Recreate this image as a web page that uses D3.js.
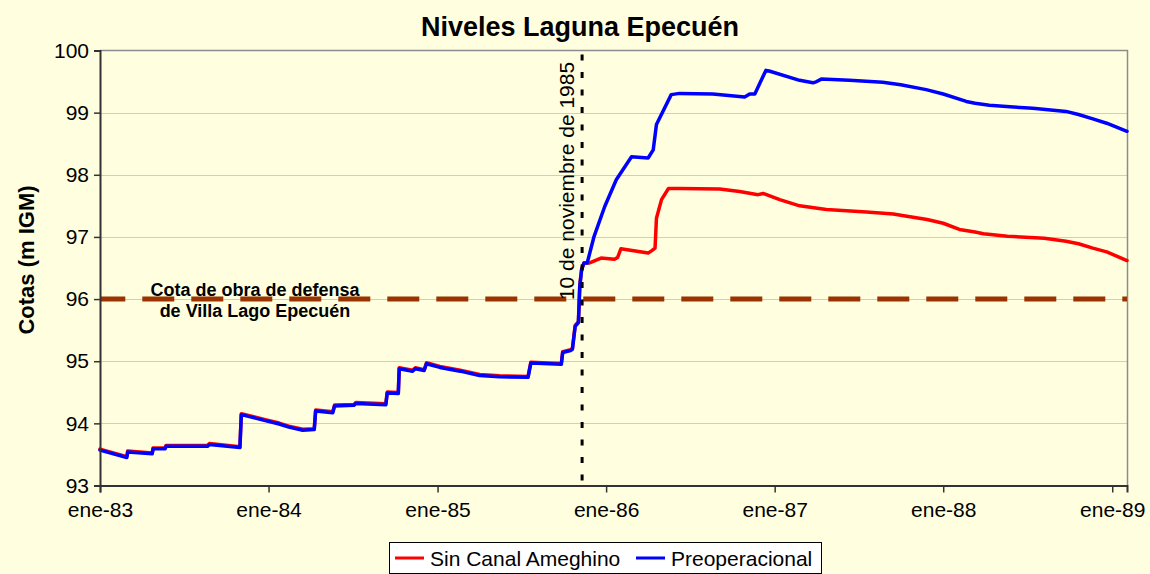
<!DOCTYPE html>
<html>
<head>
<meta charset="utf-8">
<script src="https://cdn.jsdelivr.net/npm/d3@7/dist/d3.min.js"></script>
<style>
  html, body { margin: 0; padding: 0; background: #FFFFE0; }
  svg { display: block; font-family: "Liberation Sans", Arial, sans-serif; }
</style>
</head>
<body>
<svg id="chart" width="1150" height="574"></svg>
<script>
// Niveles de la Laguna Epecuén (cota en m IGM), escenarios simulados
const fechasPre = [
  "1983-01-01","1983-02-28","1983-03-02","1983-04-24","1983-04-26","1983-05-22","1983-05-24",
  "1983-08-22","1983-08-26","1983-10-31","1983-11-03","1983-12-27","1984-01-24","1984-02-14",
  "1984-03-15","1984-04-09","1984-04-12","1984-05-19","1984-05-23","1984-07-04","1984-07-08",
  "1984-09-11","1984-09-14","1984-10-08","1984-10-10","1984-11-08","1984-11-14","1984-12-03",
  "1984-12-08","1985-01-06","1985-02-19","1985-04-02","1985-05-15","1985-07-16","1985-07-22",
  "1985-09-26","1985-09-29","1985-10-16","1985-10-20","1985-10-26","1985-11-02","1985-11-05",
  "1985-11-09","1985-11-14","1985-11-21","1985-12-06","1985-12-29","1986-01-23","1986-02-25",
  "1986-04-02","1986-04-13","1986-04-20","1986-05-22","1986-06-09","1986-08-20","1986-10-28",
  "1986-11-08","1986-11-19","1986-12-13","1986-12-20","1987-02-24","1987-03-25","1987-04-02",
  "1987-04-12","1987-06-12","1987-08-23","1987-10-01","1987-11-25","1988-01-01","1988-02-20",
  "1988-03-10","1988-04-10","1988-06-01","1988-07-13","1988-09-23","1988-10-20","1988-11-20",
  "1988-12-20","1989-02-02"
];
const cotasPre = [
  93.57, 93.45, 93.54, 93.51, 93.59, 93.59, 93.63,
  93.63, 93.66, 93.61, 94.14, 94.04, 93.99, 93.94,
  93.89, 93.90, 94.20, 94.17, 94.28, 94.29, 94.32,
  94.30, 94.49, 94.48, 94.88, 94.84, 94.88, 94.85,
  94.96, 94.90, 94.84, 94.77, 94.75, 94.74, 94.97,
  94.95, 95.14, 95.17, 95.19, 95.56, 95.62, 96.21,
  96.47, 96.58, 96.58, 97.01, 97.49, 97.92, 98.29,
  98.27, 98.40, 98.81, 99.29, 99.31, 99.30, 99.25,
  99.30, 99.30, 99.68, 99.67, 99.52, 99.48, 99.50,
  99.54, 99.52, 99.49, 99.45, 99.37, 99.30, 99.18,
  99.15, 99.12, 99.09, 99.07, 99.02, 98.97, 98.90,
  98.83, 98.70
];

const fechasSin = [
  "1983-01-01","1983-02-28","1983-03-02","1983-04-24","1983-04-26","1983-05-22","1983-05-24",
  "1983-08-22","1983-08-26","1983-10-31","1983-11-03","1983-12-27","1984-01-24","1984-02-14",
  "1984-03-15","1984-04-09","1984-04-12","1984-05-19","1984-05-23","1984-07-04","1984-07-08",
  "1984-09-11","1984-09-14","1984-10-08","1984-10-10","1984-11-08","1984-11-14","1984-12-03",
  "1984-12-08","1985-01-06","1985-02-19","1985-04-02","1985-05-15","1985-07-16","1985-07-22",
  "1985-09-26","1985-09-29","1985-10-16","1985-10-20","1985-10-26","1985-11-02","1985-11-05",
  "1985-11-09","1985-11-14","1985-11-25","1985-12-21","1986-01-19","1986-01-26","1986-02-02",
  "1986-04-02","1986-04-10","1986-04-17","1986-04-20","1986-05-01","1986-05-16","1986-06-09",
  "1986-09-04","1986-10-17","1986-11-26","1986-12-07","1987-01-12","1987-02-24","1987-04-23",
  "1987-07-19","1987-09-15","1987-10-01","1987-11-27","1988-01-01","1988-02-05","1988-03-10",
  "1988-03-28","1988-05-19","1988-08-07","1988-09-23","1988-10-20","1988-11-20","1988-12-20",
  "1989-02-02"
];
const cotasSin = [
  93.585, 93.465, 93.555, 93.525, 93.605, 93.605, 93.645,
  93.645, 93.675, 93.625, 94.155, 94.055, 94.005, 93.955,
  93.905, 93.915, 94.215, 94.185, 94.295, 94.305, 94.335,
  94.315, 94.505, 94.495, 94.895, 94.855, 94.895, 94.865,
  94.975, 94.915, 94.855, 94.785, 94.765, 94.755, 94.985,
  94.965, 95.155, 95.185, 95.205, 95.575, 95.635, 96.225,
  96.485, 96.58, 96.58, 96.66, 96.64, 96.67, 96.81,
  96.74, 96.78, 96.82, 97.30, 97.60, 97.78, 97.78,
  97.77, 97.73, 97.68, 97.70, 97.60, 97.50, 97.44,
  97.40, 97.37, 97.35, 97.28, 97.22, 97.12, 97.08,
  97.05, 97.01, 96.98, 96.93, 96.89, 96.82, 96.76,
  96.62
];

const seriesNombres = ["Sin Canal Ameghino", "Preoperacional"];
const seriesColores = ["#FF0000", "#0000FF"];
const yTicks = [93, 94, 95, 96, 97, 98, 99, 100];
const xTicks = ["1983-01-01","1984-01-01","1985-01-01","1986-01-01","1987-01-01","1988-01-01","1989-01-01"];
const xDominio = ["1983-01-01", "1989-02-02"];
const cotaDefensa = 96;
const fechaEvento = "1985-11-10";
const textoEvento = "10 de noviembre de 1985";
const textoDefensa = ["Cota de obra de defensa", "de Villa Lago Epecuén"];

const parse = d3.timeParse("%Y-%m-%d");
const meses = ["ene","feb","mar","abr","may","jun","jul","ago","sep","oct","nov","dic"];
const fmtFecha = d => meses[d.getMonth()] + "-" + d3.timeFormat("%y")(d);

const svg = d3.select("#chart");
const W = 1150, H = 574;
const plot = { left: 100, right: 1127, top: 50.5, bottom: 485.5 };

svg.append("rect").attr("width", W).attr("height", H).attr("fill", "#FFFFE0");

const x = d3.scaleTime().domain(xDominio.map(parse)).range([plot.left, plot.right]);
const y = d3.scaleLinear().domain([93, 100]).range([plot.bottom, plot.top]);

// Líneas de grilla horizontales
svg.append("g")
  .selectAll("line")
  .data(yTicks.filter(t => t > 93 && t < 100))
  .join("line")
  .attr("x1", plot.left).attr("x2", plot.right)
  .attr("y1", d => Math.round(y(d)) + 0.5).attr("y2", d => Math.round(y(d)) + 0.5)
  .attr("stroke", "#CDCDCD").attr("stroke-width", 1.2);

// Borde del área de trazado
svg.append("path")
  .attr("d", `M${plot.left},${plot.top}H${plot.right + 0.5}V${plot.bottom}`)
  .attr("fill", "none").attr("stroke", "#8C8C8C").attr("stroke-width", 1.5);

// Cota de la obra de defensa
svg.append("line")
  .attr("x1", plot.left).attr("x2", plot.right)
  .attr("y1", y(cotaDefensa)).attr("y2", y(cotaDefensa))
  .attr("stroke", "#993300").attr("stroke-width", 5)
  .attr("stroke-dasharray", "32,17").attr("stroke-dashoffset", 6.7);

// Series
const linea = d3.line().x(d => x(d[0])).y(d => y(d[1]));
const datosSin = fechasSin.map((f, i) => [parse(f), cotasSin[i]]);
const datosPre = fechasPre.map((f, i) => [parse(f), cotasPre[i]]);
[datosSin, datosPre].forEach((datos, i) => {
  svg.append("path")
    .datum(datos)
    .attr("d", linea)
    .attr("fill", "none")
    .attr("stroke", seriesColores[i])
    .attr("stroke-width", 3.5)
    .attr("stroke-linejoin", "round")
    .attr("stroke-linecap", "round");
});

// Ejes
const yAxis = d3.axisLeft(y).tickValues(yTicks).tickSize(6).tickPadding(5).tickFormat(d3.format("d"));
const gy = svg.append("g").attr("transform", `translate(${plot.left},0)`).call(yAxis);
gy.select(".domain").attr("stroke", "#333").attr("stroke-width", 2);
gy.selectAll(".tick line").attr("stroke", "#333").attr("stroke-width", 1.5);
gy.selectAll(".tick text").attr("font-size", 21).attr("fill", "#000")
  .attr("font-family", "Liberation Sans, Arial, sans-serif");

const xAxis = d3.axisBottom(x).tickValues(xTicks.map(parse)).tickSize(7).tickPadding(10).tickFormat(fmtFecha);
const gx = svg.append("g").attr("transform", `translate(0,${plot.bottom})`).call(xAxis);
gx.select(".domain").attr("stroke", "#333").attr("stroke-width", 2);
gx.selectAll(".tick line").attr("stroke", "#333").attr("stroke-width", 1.5);
gx.selectAll(".tick text").attr("font-size", 21).attr("fill", "#000")
  .attr("font-family", "Liberation Sans, Arial, sans-serif");

// Fecha del evento
const xe = x(parse(fechaEvento));
svg.append("line")
  .attr("x1", xe).attr("x2", xe)
  .attr("y1", plot.top).attr("y2", plot.bottom)
  .attr("stroke", "#000").attr("stroke-width", 3)
  .attr("stroke-dasharray", "6,11.5").attr("stroke-dashoffset", -4);

svg.append("text")
  .attr("transform", `translate(${xe - 8},${y(cotaDefensa) + 1}) rotate(-90)`)
  .attr("font-size", 21)
  .attr("fill", "#000")
  .text(textoEvento);

// Rótulo de la cota de defensa
svg.append("text")
  .attr("x", 255).attr("y", 296)
  .attr("text-anchor", "middle").attr("font-size", 18).attr("font-weight", "bold")
  .text(textoDefensa[0]);
svg.append("text")
  .attr("x", 255).attr("y", 317)
  .attr("text-anchor", "middle").attr("font-size", 18).attr("font-weight", "bold")
  .text(textoDefensa[1]);

// Títulos
svg.append("text")
  .attr("x", 580).attr("y", 36)
  .attr("text-anchor", "middle").attr("font-size", 27).attr("font-weight", "bold")
  .text("Niveles Laguna Epecuén");

svg.append("text")
  .attr("transform", `translate(34,260) rotate(-90)`)
  .attr("text-anchor", "middle").attr("font-size", 22).attr("font-weight", "bold")
  .text("Cotas (m IGM)");

// Leyenda
const leg = svg.append("g");
leg.append("rect")
  .attr("x", 389.5).attr("y", 542.5).attr("width", 432).attr("height", 31)
  .attr("fill", "#FFFFFF").attr("stroke", "#000").attr("stroke-width", 1);
const legX = [395, 636];
seriesNombres.forEach((n, i) => {
  leg.append("line")
    .attr("x1", legX[i]).attr("x2", legX[i] + 29)
    .attr("y1", 558).attr("y2", 558)
    .attr("stroke", seriesColores[i]).attr("stroke-width", 3);
  leg.append("text")
    .attr("x", legX[i] + 35).attr("y", 565.5)
    .attr("font-size", 21)
    .text(n);
});
</script>
</body>
</html>
